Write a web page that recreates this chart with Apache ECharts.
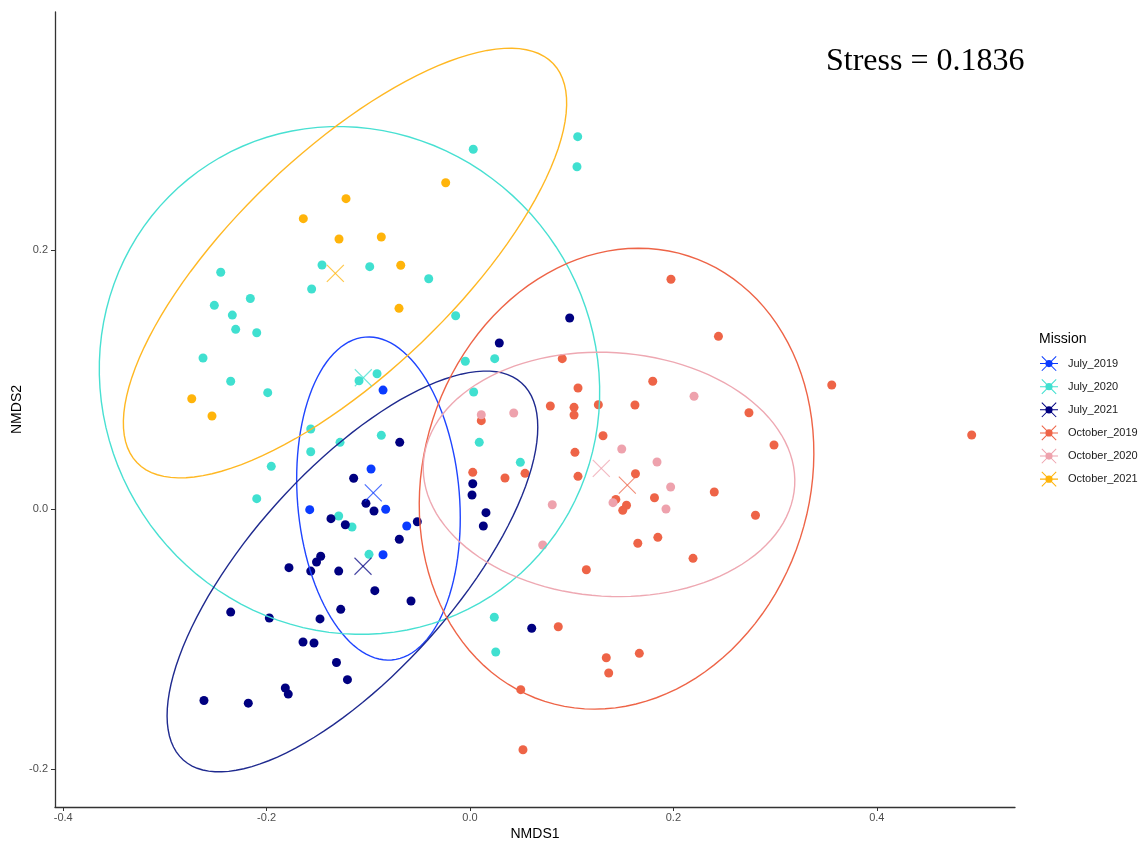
<!DOCTYPE html>
<html>
<head>
<meta charset="utf-8">
<script src="https://cdn.jsdelivr.net/npm/echarts@6/dist/echarts.min.js"></script>
<style>
html,body{margin:0;padding:0;background:#fff;}
#chart{width:1148px;height:844px;}
</style>
</head>
<body>
<div id="chart"></div>
<script>
// ---- data (NMDS1, NMDS2) ----
const missions = ['July_2019','July_2020','July_2021','October_2019','October_2020','October_2021'];

const july2019 = [[-0.0855,0.0919],[-0.0973,0.0311],[-0.1576,-0.0003],[-0.0829,0.0000],[-0.0622,-0.0129],[-0.0855,-0.0350]];

const july2020 = [[0.0032,0.2775],[0.1059,0.2872],[0.1052,0.2640],[-0.0406,0.1777],[-0.2451,0.1827],[-0.1455,0.1883],
  [-0.0986,0.1870],[-0.1557,0.1698],[-0.2514,0.1572],[-0.2160,0.1625],[-0.2337,0.1497],[-0.2304,0.1387],
  [-0.2097,0.1361],[-0.2625,0.1166],[-0.2353,0.0987],[-0.1989,0.0899],[-0.0914,0.1045],[-0.1091,0.0991],
  [-0.1566,0.0619],[-0.1278,0.0516],[-0.0872,0.0570],[-0.1566,0.0444],[-0.1954,0.0331],[-0.2097,0.0082],
  [-0.1291,-0.0052],[-0.1160,-0.0136],[-0.0993,-0.0347],[-0.0141,0.1492],[-0.0046,0.1141],[0.0243,0.1161],
  [0.0036,0.0904],[0.0091,0.0516],[0.0495,0.0362],[0.0239,-0.0832],[0.0253,-0.1100]];

const july2021 = [[0.0980,0.1474],[0.0288,0.1282],[-0.0691,0.0516],[-0.1144,0.0239],[-0.1023,0.0046],[-0.0944,-0.0013],
  [-0.1367,-0.0072],[-0.1226,-0.0119],[-0.0518,-0.0096],[-0.0695,-0.0231],[0.0027,0.0197],[0.0020,0.0110],
  [0.0157,-0.0026],[0.0131,-0.0129],[-0.1468,-0.0362],[-0.1509,-0.0406],[-0.1780,-0.0450],[-0.1566,-0.0476],
  [-0.1291,-0.0476],[-0.0936,-0.0627],[-0.0580,-0.0707],[-0.2353,-0.0792],[-0.1973,-0.0838],[-0.1475,-0.0845],
  [-0.1271,-0.0771],[-0.1642,-0.1023],[-0.1534,-0.1030],[-0.1313,-0.1181],[-0.1205,-0.1313],[-0.1816,-0.1377],
  [-0.1787,-0.1424],[-0.2616,-0.1474],[-0.2180,-0.1494],[0.0607,-0.0917]];

const october2019 = [[0.1976,0.1773],[0.2443,0.1333],[0.0907,0.1161],[0.1797,0.0987],[0.1062,0.0935],[0.0790,0.0796],
  [0.1023,0.0786],[0.1023,0.0727],[0.1262,0.0806],[0.1622,0.0804],[0.2743,0.0744],[0.2989,0.0496],
  [0.1308,0.0567],[0.1032,0.0439],[0.1062,0.0254],[0.1627,0.0274],[0.0111,0.0683],[0.0027,0.0285],
  [0.0344,0.0241],[0.0541,0.0277],[0.1434,0.0076],[0.1539,0.0031],[0.1502,-0.0008],[0.1814,0.0089],
  [0.2402,0.0133],[0.2807,-0.0046],[0.1650,-0.0262],[0.1847,-0.0216],[0.2193,-0.0378],[0.1144,-0.0466],
  [0.0868,-0.0905],[0.1340,-0.1144],[0.1665,-0.1110],[0.1364,-0.1262],[0.0499,-0.1390],[0.0521,-0.1853],
  [0.3557,0.0958],[0.4933,0.0573]];

const october2020 = [[0.2203,0.0871],[0.1492,0.0465],[0.1839,0.0365],[0.1973,0.0172],[0.1406,0.0051],
  [0.1927,0.0002],[0.0111,0.0729],[0.0430,0.0742],[0.0809,0.0035],[0.0715,-0.0275]];

const october2021 = [[-0.1219,0.2394],[-0.1639,0.2240],[-0.1288,0.2083],[-0.0872,0.2099],[-0.0681,0.1881],
  [-0.0698,0.1549],[-0.2736,0.0852],[-0.2537,0.0719],[-0.0239,0.2517]];

// group centroids (NMDS1, NMDS2)
const centroids = [[-0.0951,0.0126],[-0.1049,0.1014],[-0.1052,-0.0439],[0.1547,0.0186],[0.1291,0.0316],[-0.1324,0.1819]];

// ellipses: centre (x, y) and two conjugate semi-axis vectors (ux, uy, vx, vy), in NMDS units
const ellipses = [
  [-0.0900, 0.0083, 0.01305,-0.12443,-0.07937,-0.00511],
  [-0.1185, 0.0993, 0.14912,-0.16086,-0.19569,-0.11145],
  [-0.1156,-0.0479, 0.16633, 0.14530, 0.07450,-0.05240],
  [ 0.1441, 0.0236, 0.07057, 0.17165, 0.18072,-0.04564],
  [ 0.1367, 0.0269, 0.18255,-0.00875,-0.00732,-0.09378],
  [-0.1229, 0.1898, 0.20462, 0.15378, 0.07506,-0.06136]
];

const xTicks = [-0.4,-0.2,0.0,0.2,0.4];
const yTicks = [-0.2,0.0,0.2];
const stressText = 'Stress = 0.1836';

// ---- styling ----
const groupPoints = [july2019, july2020, july2021, october2019, october2020, october2021];
const colors = ['#0A3BFF','#40E0D0','#000080','#EE6447','#EEA2AD','#FFB40A'];
const ellipseColors = ['#1F45FF','#48E0D2','#1F2A8F','#EE6447','#EEA8B2','#FFB823'];

const legendIcon = 'path://M0,9.4H20V10.6H0Z M2.4,1.6L18.4,17.6L17.6,18.4L1.6,2.4Z M17.6,1.6L18.4,2.4L2.4,18.4L1.6,17.6Z M10,6A4,4 0 0 1 10,14A4,4 0 0 1 10,6Z';

const series = [];
missions.forEach((m, i) => {
  series.push({
    name: m, type: 'scatter', data: groupPoints[i], symbol: 'circle', symbolSize: 9,
    itemStyle: { color: colors[i], opacity: 1 }, z: 3, silent: true
  });
});
missions.forEach((m, i) => {
  series.push({
    name: m, type: 'custom', data: [ellipses[i]], z: 4, silent: true,
    dimensions: ['x','y','ux','uy','vx','vy'],
    encode: { x: 0, y: 1 },
    renderItem: function (params, api) {
      const cx = api.value(0), cy = api.value(1), ux = api.value(2), uy = api.value(3), vx = api.value(4), vy = api.value(5);
      const pts = [];
      for (let k = 0; k <= 120; k++) {
        const t = 2 * Math.PI * k / 120;
        pts.push(api.coord([cx + ux * Math.cos(t) + vx * Math.sin(t), cy + uy * Math.cos(t) + vy * Math.sin(t)]));
      }
      return { type: 'polyline', shape: { points: pts }, style: { stroke: ellipseColors[i], fill: null, lineWidth: 1.4 } };
    }
  });
});
missions.forEach((m, i) => {
  series.push({
    name: m, type: 'custom', data: [centroids[i]], z: 5, silent: true,
    encode: { x: 0, y: 1 },
    renderItem: function (params, api) {
      const p = api.coord([api.value(0), api.value(1)]);
      const s = 8.5;
      const st = { stroke: colors[i], lineWidth: 1.1, opacity: 0.75 };
      return { type: 'group', children: [
        { type: 'line', shape: { x1: p[0]-s, y1: p[1]-s, x2: p[0]+s, y2: p[1]+s }, style: st },
        { type: 'line', shape: { x1: p[0]-s, y1: p[1]+s, x2: p[0]+s, y2: p[1]-s }, style: st }
      ]};
    }
  });
});

const font = 'Liberation Sans, Arial, sans-serif';
const chart = echarts.init(document.getElementById('chart'), null, { renderer: 'canvas' });
chart.setOption({
  backgroundColor: '#ffffff',
  animation: false,
  title: [
    { text: stressText, left: 821, top: 41, textStyle: { fontFamily: 'Liberation Serif, Times New Roman, serif', fontSize: 32, fontWeight: 'normal', color: '#000' } },
    { text: 'Mission', left: 1034, top: 327, textStyle: { fontFamily: font, fontSize: 14, fontWeight: 'normal', color: '#000' } }
  ],
  legend: {
    orient: 'vertical', left: 1035, top: 351, itemWidth: 18, itemHeight: 18, itemGap: 8,
    data: missions.map(m => ({ name: m, icon: legendIcon })),
    textStyle: { fontFamily: font, fontSize: 11, color: '#1a1a1a', padding: [0, 0, 0, 5] },
    selectedMode: false
  },
  grid: { left: 55, right: 133, top: 12, bottom: 37, containLabel: false, outerBoundsMode: 'none' },
  xAxis: {
    type: 'value', min: -0.40806, max: 0.53589,
    name: 'NMDS1', nameLocation: 'middle', nameGap: 20, nameMoveOverlap: false,
    nameTextStyle: { fontFamily: font, fontSize: 14, color: '#000' },
    axisLine: { show: true, onZero: false, lineStyle: { color: '#333', width: 1.3 } },
    axisTick: { show: true, length: 4, customValues: xTicks, lineStyle: { color: '#333' } },
    axisLabel: { customValues: xTicks, formatter: v => v.toFixed(1), fontFamily: font, fontSize: 11, color: '#4d4d4d', margin: 5 },
    splitLine: { show: false }
  },
  yAxis: {
    type: 'value', min: -0.22944, max: 0.38328,
    name: 'NMDS2', nameLocation: 'middle', nameGap: 31, nameRotate: 90, nameMoveOverlap: false,
    nameTextStyle: { fontFamily: font, fontSize: 14, color: '#000' },
    axisLine: { show: true, onZero: false, lineStyle: { color: '#333', width: 1.3 } },
    axisTick: { show: true, length: 4, customValues: yTicks, lineStyle: { color: '#333' } },
    axisLabel: { customValues: yTicks, formatter: v => v.toFixed(1), fontFamily: font, fontSize: 11, color: '#4d4d4d', margin: 7 },
    splitLine: { show: false }
  },
  series: series
});
</script>
</body>
</html>
